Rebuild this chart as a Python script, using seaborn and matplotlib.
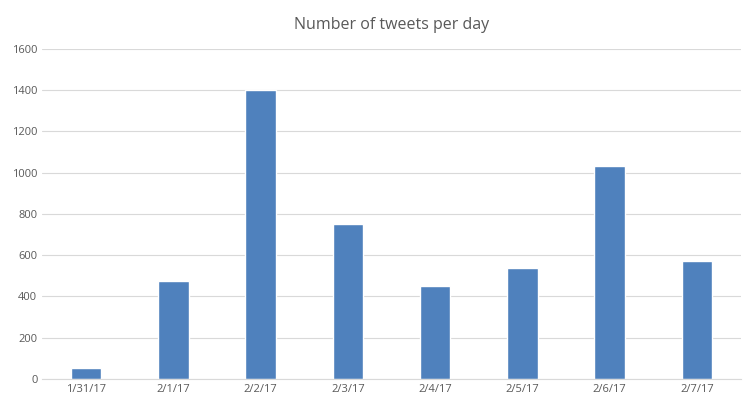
import matplotlib
matplotlib.use("Agg")
import matplotlib.pyplot as plt
import seaborn as sns
import pandas as pd

# Datos
days = ["1/31/17", "2/1/17", "2/2/17", "2/3/17", "2/4/17", "2/5/17", "2/6/17", "2/7/17"]
tweets = [55, 475, 1400, 750, 450, 540, 1030, 570]

df = pd.DataFrame({"day": days, "tweets": tweets})

sns.set_style("white")
plt.rcParams["font.family"] = ["Open Sans", "DejaVu Sans"]

fig = plt.figure(figsize=(7.55, 4.11), dpi=100)
ax = fig.add_axes([0.056, 0.078, 0.925, 0.803])
sns.barplot(x="day", y="tweets", data=df, color="#4f81bd", saturation=1, width=0.35, ax=ax)

ax.set_ylim(0, 1600)
ax.set_yticks(range(0, 1601, 200))
ax.grid(axis="y", color="#d9d9d9", linewidth=0.8)
ax.set_axisbelow(True)
for s in ["top", "right", "left"]:
    ax.spines[s].set_visible(False)
ax.spines["bottom"].set_color("#d9d9d9")
ax.tick_params(axis="both", length=0, labelsize=8, colors="#595959")
ax.set_xlabel("")
ax.set_ylabel("")
ax.set_title("Number of tweets per day", fontsize=11.5, color="#595959", pad=14)

fig.savefig("out.png", dpi=100)
